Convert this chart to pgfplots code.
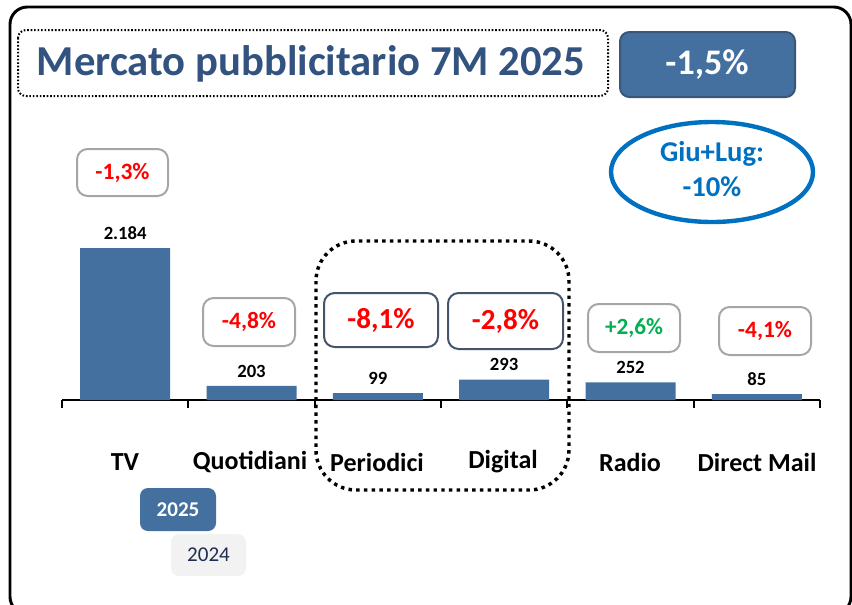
\documentclass[border=0pt]{standalone}
\usepackage{pgfplots}
\pgfplotsset{compat=1.18}
\usepackage{fontspec}
\setmainfont{Carlito}
\definecolor{barblue}{RGB}{67,112,158}
\definecolor{titleblue}{RGB}{50,82,128}
\definecolor{boxborder}{RGB}{58,86,120}
\definecolor{ellblue}{RGB}{0,112,192}
\definecolor{pgray}{RGB}{166,166,166}
\definecolor{pdark}{RGB}{68,84,106}
\definecolor{pred}{RGB}{255,0,0}
\definecolor{pgreen}{RGB}{0,176,80}
\definecolor{lgray}{RGB}{242,242,242}
\definecolor{navy}{RGB}{31,45,80}
\newcommand{\fs}[1]{\fontsize{#1}{#1}\selectfont}
\begin{document}
\begin{tikzpicture}
\useasboundingbox (0pt,0pt) rectangle (639pt,-453pt);
\begin{axis}[
  at={(46.5pt,-300pt)}, anchor=south west,
  scale only axis, width=568.5pt, height=120pt,
  xmin=-0.5, xmax=5.5, ymin=0, ymax=2300,
  axis x line*=bottom, axis y line=none,
  x axis line style={line width=2pt,-},
  xtick={-0.5,0.5,1.5,2.5,3.5,4.5,5.5}, xticklabels={},
  ytick=\empty,
  tick align=outside, major tick length=6pt,
  tick style={line width=1.5pt,black},
  clip=false,
]
\addplot[ybar, bar width=67.5pt, fill=barblue, draw=none,
  point meta=explicit symbolic,
  nodes near coords,
  every node near coord/.append style={font=\bfseries\fs{14}, anchor=south, yshift=3pt, text=black}]
  coordinates {(0,2184)[2.184] (1,203)[203] (2,99)[99] (3,293)[293] (4,252)[252] (5,85)[85]};
\end{axis}
\begin{scope}[x=0.75pt,y=-0.75pt]
% outer frame
\draw[line width=2.2pt, rounded corners=13pt] (10,7) rectangle (851,614);
% title
\draw[line width=1.5pt, dash pattern=on 1.2pt off 1.4pt, rounded corners=6pt] (18,30) rectangle (608,96);
\node[text=titleblue, font=\bfseries\fs{32}] at (311,64) {Mercato pubblicitario 7M 2025};
\draw[fill=barblue, draw=boxborder, line width=1.5pt, rounded corners=7pt] (620,32) rectangle (795,97);
\node[text=white, font=\bfseries\fs{27}] at (707,65) {-1,5\%};
% ellipse
\draw[ellblue, line width=3.3pt] (712,172) ellipse [x radius=101, y radius=50];
\node[text=ellblue, font=\bfseries\fs{21.5}] at (712,154) {Giu+Lug:};
\node[text=ellblue, font=\bfseries\fs{21.5}] at (712,187) {-10\%};
% percent boxes
\draw[pgray, line width=1.5pt, rounded corners=8pt] (77,149) rectangle (168,196);
\node[text=pred, font=\bfseries\fs{17.6}] at (122.5,173) {-1,3\%};
\draw[pgray, line width=1.5pt, rounded corners=8pt] (203,298) rectangle (295,346);
\node[text=pred, font=\bfseries\fs{17.6}] at (249,322) {-4,8\%};
\draw[pdark, line width=1.5pt, rounded corners=8pt] (324,293) rectangle (438,347);
\node[text=pred, font=\bfseries\fs{21.8}] at (381,320) {-8,1\%};
\draw[pdark, line width=1.5pt, rounded corners=8pt] (448,293) rectangle (563,349);
\node[text=pred, font=\bfseries\fs{21.8}] at (505.5,321) {-2,8\%};
\draw[pgray, line width=1.5pt, rounded corners=8pt] (588,304) rectangle (680,352);
\node[text=pgreen, font=\bfseries\fs{17.4}] at (634,328) {+2,6\%};
\draw[pgray, line width=1.5pt, rounded corners=8pt] (719,307) rectangle (811,355);
\node[text=pred, font=\bfseries\fs{17.6}] at (765,331) {-4,1\%};
% highlight box
\draw[line width=2.6pt, dash pattern=on 2.6pt off 3.2pt, rounded corners=30pt] (316,241) rectangle (569,490);
% category labels
\foreach \xx/\lab in {125/TV, 250/Quotidiani, 377/Periodici, 503/Digital, 630/Radio, 757/Direct Mail}
  \node[font=\bfseries\fs{19.5}] at (\xx,462) {\lab};
% legend
\draw[fill=barblue, draw=none, rounded corners=6pt] (140,488) rectangle (216,531);
\node[text=white, font=\bfseries\fs{15.8}] at (178,510) {2025};
\draw[fill=lgray, draw=none, rounded corners=6pt] (171,534) rectangle (246,576);
\node[text=navy, font=\fs{15.8}] at (208.5,555) {2024};
\end{scope}
\end{tikzpicture}
\end{document}
